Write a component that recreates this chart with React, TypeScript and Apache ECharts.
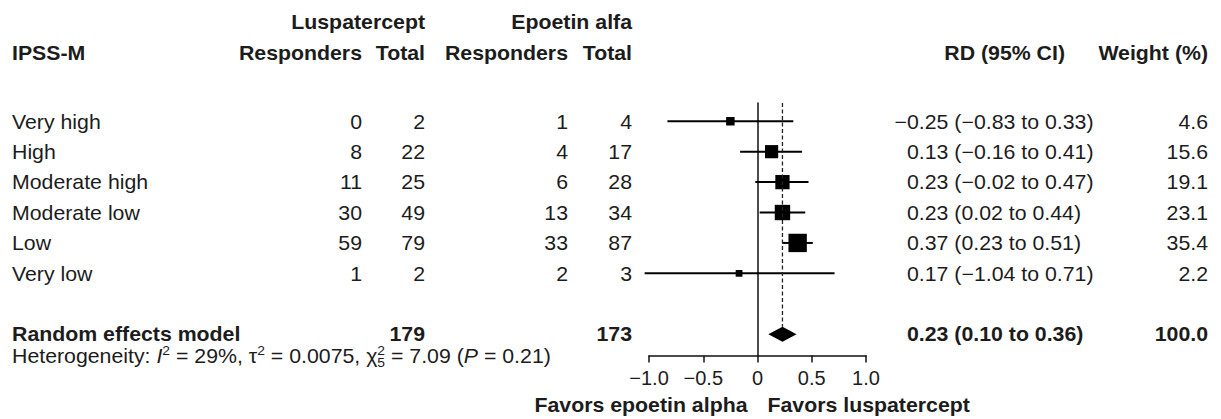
import React, { useEffect, useRef } from "react";
import * as echarts from "echarts";

// ---------- data ----------
const subgroups = ["Very high", "High", "Moderate high", "Moderate low", "Low", "Very low"];
const lusResp = [0, 8, 11, 30, 59, 1];
const lusTotal = [2, 22, 25, 49, 79, 2];
const epoResp = [1, 4, 6, 13, 33, 2];
const epoTotal = [4, 17, 28, 34, 87, 3];
// position of the square as drawn in the figure
const rdEstPlotted = [-0.25, 0.13, 0.23, 0.23, 0.37, -0.17];
// estimate as printed in the RD column
const rdEstPrinted = [-0.25, 0.13, 0.23, 0.23, 0.37, 0.17];
const rdLow = [-0.83, -0.16, -0.02, 0.02, 0.23, -1.04];
const rdHigh = [0.33, 0.41, 0.47, 0.44, 0.51, 0.71];
const weights = [4.6, 15.6, 19.1, 23.1, 35.4, 2.2];
const pooledRD = [0.23, 0.1, 0.36]; // est, low, high
const pooledTotals = [179, 173];
const pooledWeight = 100.0;
const hetI2 = 29;
const hetTau2 = 0.0075;
const hetChi2 = 7.09;
const hetDf = 5;
const hetP = 0.21;
const xTicks = [-1, -0.5, 0, 0.5, 1];

// ---------- style ----------
const FONT = '"Liberation Sans", Arial, Helvetica, sans-serif';
const FS = 20;
const SX = 1.065;
const INK = "#1c1c1c";

const fmt2 = (v: number) => (v < 0 ? "\u2212" : "") + Math.abs(v).toFixed(2);
const fmtTick = (v: number) => (v === 0 ? "0" : (v < 0 ? "\u2212" : "") + Math.abs(v).toFixed(1));

let ctx: CanvasRenderingContext2D | null = null;
function measure(text: string, bold = false, italic = false, size = FS) {
  if (!ctx) ctx = document.createElement("canvas").getContext("2d");
  if (!ctx) return text.length * size * 0.55;
  ctx.font = `${italic ? "italic " : ""}${bold ? "bold " : ""}${size}px ${FONT}`;
  return ctx.measureText(text).width;
}

function txt(
  text: string,
  x: number,
  y: number,
  o: { bold?: boolean; italic?: boolean; align?: string; size?: number } = {}
) {
  return {
    type: "text",
    x,
    y,
    scaleX: SX,
    silent: true,
    style: {
      text,
      fill: INK,
      fontSize: o.size || FS,
      fontFamily: FONT,
      fontWeight: o.bold ? "bold" : "normal",
      fontStyle: o.italic ? "italic" : "normal",
      align: o.align || "left",
      textAlign: o.align || "left",
      verticalAlign: "middle",
      textVerticalAlign: "middle",
    },
  };
}

export default function App() {
  const ref = useRef<HTMLDivElement>(null);

  useEffect(() => {
    if (!ref.current) return;
    const chart = echarts.init(ref.current, null, { renderer: "svg" });
    const SUM_ROW = 7;
    const Y_MIN = -0.6;

    chart.setOption({
      animation: false,
      backgroundColor: "#ffffff",
      grid: { left: 649, width: 217, top: 103, height: 252.5, containLabel: false },
      xAxis: {
        type: "value",
        min: -1,
        max: 1,
        interval: 0.5,
        axisLine: { show: true, onZero: false, lineStyle: { color: "#111", width: 1.5 } },
        axisTick: { show: true, length: 7, lineStyle: { color: "#111", width: 1.5 } },
        axisLabel: {
          fontSize: 20,
          color: INK,
          fontFamily: FONT,
          margin: 12,
          formatter: (v: number) => (xTicks.includes(v) ? fmtTick(v) : ""),
        },
        splitLine: { show: false },
      },
      yAxis: {
        type: "value",
        inverse: true,
        min: Y_MIN,
        max: 7.7,
        axisLine: { show: true, onZero: true, lineStyle: { color: "#111", width: 1.5 } },
        axisTick: { show: false },
        axisLabel: { show: false },
        splitLine: { show: false },
      },
      series: [
        {
          type: "custom",
          clip: false,
          encode: { x: [1, 2, 3], y: 0 },
          data: subgroups.map((_, i) => [i, rdEstPlotted[i], rdLow[i], rdHigh[i], weights[i]]),
          renderItem: (params: any, api: any) => {
            const row = api.value(0);
            const pE = api.coord([api.value(1), row]);
            const pL = api.coord([api.value(2), row]);
            const pH = api.coord([api.value(3), row]);
            const s = 2.9 + 2.6 * Math.sqrt(api.value(4));
            return {
              type: "group",
              children: [
                {
                  type: "line",
                  shape: { x1: pL[0], y1: pL[1], x2: pH[0], y2: pH[1] },
                  style: { stroke: "#000", lineWidth: 2 },
                },
                {
                  type: "rect",
                  shape: { x: pE[0] - s / 2, y: pE[1] - s / 2, width: s, height: s },
                  style: { fill: "#000" },
                },
              ],
            };
          },
        },
        {
          type: "custom",
          clip: false,
          encode: { x: [1, 2, 3], y: 0 },
          data: [[SUM_ROW, pooledRD[0], pooledRD[1], pooledRD[2]]],
          renderItem: (params: any, api: any) => {
            const row = api.value(0);
            const est = api.value(1);
            const pE = api.coord([est, row]);
            const pL = api.coord([api.value(2), row]);
            const pH = api.coord([api.value(3), row]);
            const pTop = api.coord([est, Y_MIN]);
            const h = 7.5;
            return {
              type: "group",
              children: [
                {
                  type: "line",
                  shape: { x1: pE[0], y1: pTop[1], x2: pE[0], y2: pE[1] - h },
                  style: { stroke: "#222", lineWidth: 1.3, lineDash: [4, 2.5] },
                },
                {
                  type: "polygon",
                  shape: {
                    points: [
                      [pL[0], pL[1]],
                      [pE[0], pE[1] - h],
                      [pH[0], pH[1]],
                      [pE[0], pE[1] + h],
                    ],
                  },
                  style: { fill: "#000" },
                },
              ],
            };
          },
        },
      ],
    });

    // ---------- table text ----------
    const rowY = (r: number) => chart.convertToPixel({ yAxisIndex: 0 }, r) as number;
    const zeroX = chart.convertToPixel({ xAxisIndex: 0 }, 0) as number;

    const COL_LABEL = 12;
    const COL_LR = 362;
    const COL_LT = 425;
    const COL_ER = 568;
    const COL_ET = 632;
    const COL_RD = 907;
    const COL_RD_HEAD = 1065;
    const COL_W = 1208;
    const H1 = 22;
    const H2 = 53;

    const els: any[] = [];
    els.push(txt("Luspatercept", COL_LT, H1, { bold: true, align: "right" }));
    els.push(txt("Epoetin alfa", COL_ET, H1, { bold: true, align: "right" }));
    els.push(txt("IPSS-M", COL_LABEL, H2, { bold: true }));
    els.push(txt("Responders", COL_LR, H2, { bold: true, align: "right" }));
    els.push(txt("Total", COL_LT, H2, { bold: true, align: "right" }));
    els.push(txt("Responders", COL_ER, H2, { bold: true, align: "right" }));
    els.push(txt("Total", COL_ET, H2, { bold: true, align: "right" }));
    els.push(txt("RD (95% CI)", COL_RD_HEAD, H2, { bold: true, align: "right" }));
    els.push(txt("Weight (%)", COL_W, H2, { bold: true, align: "right" }));

    const minusW = measure("\u2212") * SX;
    subgroups.forEach((g, i) => {
      const y = rowY(i);
      els.push(txt(g, COL_LABEL, y));
      els.push(txt(String(lusResp[i]), COL_LR, y, { align: "right" }));
      els.push(txt(String(lusTotal[i]), COL_LT, y, { align: "right" }));
      els.push(txt(String(epoResp[i]), COL_ER, y, { align: "right" }));
      els.push(txt(String(epoTotal[i]), COL_ET, y, { align: "right" }));
      const rd = `${fmt2(rdEstPrinted[i])} (${fmt2(rdLow[i])} to ${fmt2(rdHigh[i])})`;
      els.push(txt(rd, COL_RD - (rdEstPrinted[i] < 0 ? minusW : 0), y));
      els.push(txt(weights[i].toFixed(1), COL_W, y, { align: "right" }));
    });

    const ys = rowY(SUM_ROW);
    els.push(txt("Random effects model", COL_LABEL, ys, { bold: true }));
    els.push(txt(String(pooledTotals[0]), COL_LT, ys, { bold: true, align: "right" }));
    els.push(txt(String(pooledTotals[1]), COL_ET, ys, { bold: true, align: "right" }));
    els.push(
      txt(`${fmt2(pooledRD[0])} (${fmt2(pooledRD[1])} to ${fmt2(pooledRD[2])})`, COL_RD, ys, { bold: true })
    );
    els.push(txt(pooledWeight.toFixed(1), COL_W, ys, { bold: true, align: "right" }));

    // heterogeneity line
    const yh = ys + 22;
    const SUP = 13;
    const segs: any[] = [
      { t: "Heterogeneity: " },
      { t: "I", it: true },
      { t: "2", sup: true },
      { t: ` = ${hetI2}%, \u03c4` },
      { t: "2", sup: true },
      { t: ` = ${hetTau2}, \u03c7` },
      { stack: ["2", String(hetDf)] },
      { t: ` = ${hetChi2.toFixed(2)} (` },
      { t: "P", it: true },
      { t: ` = ${hetP.toFixed(2)})` },
    ];
    let cx = COL_LABEL;
    segs.forEach((s) => {
      if (s.stack) {
        els.push(txt(s.stack[0], cx, yh - 6, { size: SUP }));
        els.push(txt(s.stack[1], cx, yh + 6, { size: SUP }));
        cx += Math.max(measure(s.stack[0], false, false, SUP), measure(s.stack[1], false, false, SUP)) * SX;
      } else if (s.sup) {
        els.push(txt(s.t, cx, yh - 6, { size: SUP }));
        cx += measure(s.t, false, false, SUP) * SX;
      } else {
        els.push(txt(s.t, cx, yh, { italic: !!s.it }));
        cx += measure(s.t, false, !!s.it) * SX;
      }
    });

    // favours labels
    const yf = 405;
    els.push(txt("Favors epoetin alpha", zeroX - 10, yf, { bold: true, align: "right" }));
    els.push(txt("Favors luspatercept", zeroX + 10, yf, { bold: true }));

    chart.setOption({ graphic: { elements: els } });

    return () => chart.dispose();
  }, []);

  return (
    <div
      ref={ref}
      style={{ position: "absolute", left: 0, top: 0, width: 1221, height: 419, background: "#fff" }}
    />
  );
}
